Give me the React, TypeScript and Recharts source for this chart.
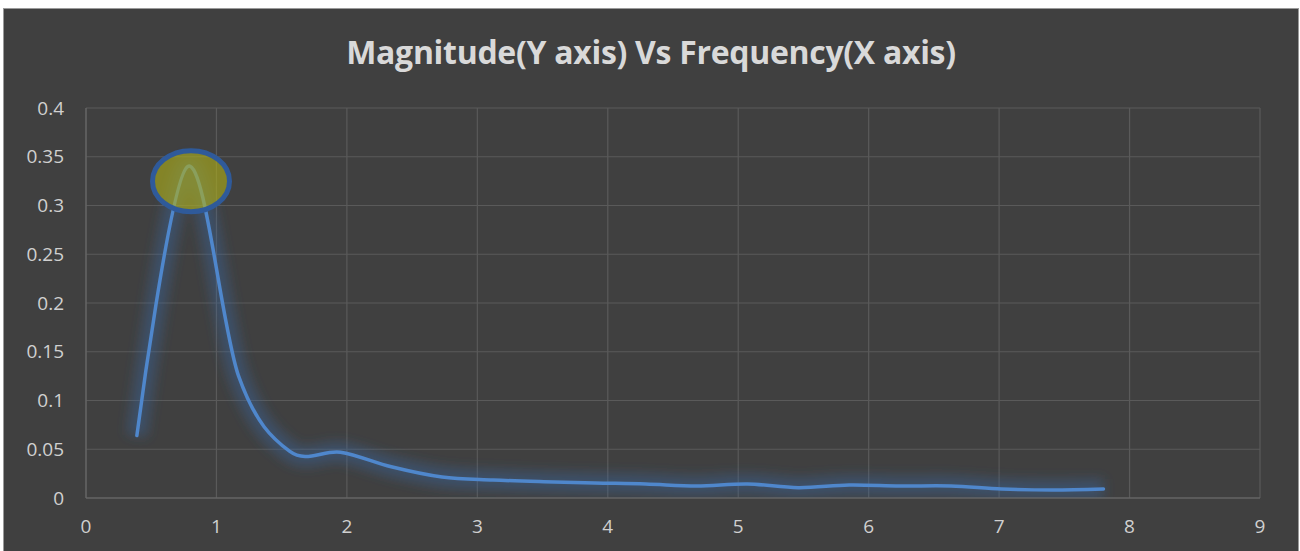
import React from "react";
import {
  LineChart,
  Line,
  XAxis,
  YAxis,
  CartesianGrid,
  ReferenceDot,
} from "recharts";

// frequency bins (Hz) and magnitudes
const frequency = [
  0.39, 0.78, 1.17, 1.56, 1.95, 2.34, 2.73, 3.12, 3.51, 3.9, 4.29, 4.68, 5.07,
  5.46, 5.85, 6.24, 6.63, 7.02, 7.41, 7.8,
];
const magnitude = [
  0.064, 0.34, 0.125, 0.048, 0.047, 0.032, 0.0215, 0.0185, 0.0167, 0.0154,
  0.0144, 0.0123, 0.0144, 0.0106, 0.0133, 0.0123, 0.0123, 0.0092, 0.0082,
  0.0092,
];
const xTicks = [0, 1, 2, 3, 4, 5, 6, 7, 8, 9];
const yTicks = [0, 0.05, 0.1, 0.15, 0.2, 0.25, 0.3, 0.35, 0.4];

// highlighted peak (centre of the ellipse)
const peakX = 0.805;
const peakY = 0.325;

const data = frequency.map((f, i) => ({ f, m: magnitude[i] }));

// Excel-like smoothing: cardinal / catmull-rom bezier through the points
class SmoothCurve {
  _context: any;
  _k: number;
  _line = NaN;
  _point = 0;
  _x0 = NaN;
  _x1 = NaN;
  _x2 = NaN;
  _y0 = NaN;
  _y1 = NaN;
  _y2 = NaN;
  constructor(context: any) {
    this._context = context;
    this._k = 1 / 6;
  }
  areaStart() {
    this._line = 0;
  }
  areaEnd() {
    this._line = NaN;
  }
  lineStart() {
    this._x0 = this._x1 = this._x2 = this._y0 = this._y1 = this._y2 = NaN;
    this._point = 0;
  }
  lineEnd() {
    switch (this._point) {
      case 2:
        this._context.lineTo(this._x2, this._y2);
        break;
      case 3:
        this.seg(this._x1, this._y1);
        break;
    }
    if (this._line || (this._line !== 0 && this._point === 1))
      this._context.closePath();
    this._line = 1 - this._line;
  }
  seg(x: number, y: number) {
    this._context.bezierCurveTo(
      this._x1 + this._k * (this._x2 - this._x0),
      this._y1 + this._k * (this._y2 - this._y0),
      this._x2 + this._k * (this._x1 - x),
      this._y2 + this._k * (this._y1 - y),
      this._x2,
      this._y2
    );
  }
  point(x: number, y: number) {
    x = +x;
    y = +y;
    switch (this._point) {
      case 0:
        this._point = 1;
        this._line ? this._context.lineTo(x, y) : this._context.moveTo(x, y);
        break;
      case 1:
        this._point = 2;
        this._x1 = x;
        this._y1 = y;
        break;
      case 2:
        this._point = 3;
        this.seg(x, y);
        break;
      default:
        this.seg(x, y);
        break;
    }
    this._x0 = this._x1;
    this._x1 = this._x2;
    this._x2 = x;
    this._y0 = this._y1;
    this._y1 = this._y2;
    this._y2 = y;
  }
}
const smooth: any = (context: any) => new SmoothCurve(context);

const tickStyle = {
  fill: "#d0d0d0",
  fontSize: 19,
  fontFamily: "'Open Sans', sans-serif",
};

const PeakEllipse = (props: any) => (
  <ellipse
    cx={props.cx}
    cy={props.cy}
    rx={38.5}
    ry={30.5}
    fill="rgba(175,175,25,0.62)"
    stroke="#2f5a9a"
    strokeWidth={5}
  />
);

export default function App() {
  return (
    <div
      style={{
        position: "absolute",
        left: 0,
        top: 0,
        width: 1300,
        height: 551,
        background: "#ffffff",
      }}
    >
      <div
        style={{
          position: "absolute",
          left: 3,
          top: 8,
          width: 1294,
          height: 543,
          background: "#404040",
          borderTop: "1px solid #9a9a9a",
          borderLeft: "1px solid #9a9a9a",
          borderRight: "1px solid #9a9a9a",
        }}
      >
        <div
          style={{
            position: "absolute",
            left: 0,
            top: 25,
            width: 1294,
            textAlign: "center",
            color: "#d9d9d9",
            fontFamily: "'Open Sans', sans-serif",
            fontWeight: 700,
            fontSize: 32,
            lineHeight: "36px",
            letterSpacing: -0.3,
          }}
        >
          Magnitude(Y axis) Vs Frequency(X axis)
        </div>
        <LineChart
          width={1294}
          height={542}
          data={data}
          margin={{ top: 99, right: 38, left: 0, bottom: 0 }}
          style={{ position: "absolute", left: 0, top: 0 }}
        >
          <defs>
            <filter id="glow" x="-20%" y="-20%" width="140%" height="140%">
              <feGaussianBlur stdDeviation="6" />
            </filter>
          </defs>
          <CartesianGrid stroke="#5a5a5a" strokeWidth={1.2} />
          <XAxis
            type="number"
            dataKey="f"
            domain={[0, 9]}
            ticks={xTicks}
            height={53}
            tickSize={0}
            tickMargin={22}
            axisLine={{ stroke: "#6a6a6a" }}
            tickLine={false}
            tick={tickStyle}
            allowDataOverflow
          />
          <YAxis
            type="number"
            domain={[0, 0.4]}
            ticks={yTicks}
            width={82}
            tickSize={0}
            tickMargin={22}
            axisLine={{ stroke: "#6a6a6a" }}
            tickLine={false}
            tick={tickStyle}
            allowDataOverflow
          />
          <Line
            type={smooth}
            dataKey="m"
            stroke="#3a66a6"
            strokeWidth={20}
            strokeOpacity={0.4}
            filter="url(#glow)"
            dot={false}
            activeDot={false}
            isAnimationActive={false}
          />
          <Line
            type={smooth}
            dataKey="m"
            stroke="#4f87cc"
            strokeWidth={3.5}
            strokeLinecap="round"
            dot={false}
            activeDot={false}
            isAnimationActive={false}
          />
          <ReferenceDot x={peakX} y={peakY} shape={<PeakEllipse />} />
        </LineChart>
      </div>
    </div>
  );
}
